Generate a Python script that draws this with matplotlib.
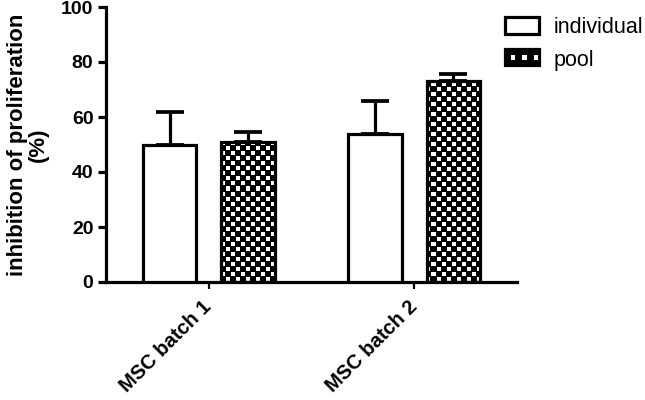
"""
Inhibition of proliferation by individual vs pooled MSC batches.
"""

import numpy as np
import matplotlib
matplotlib.use('Agg')
import matplotlib.pyplot as plt
from matplotlib.patches import Patch, Rectangle

# Data
batches = ['MSC batch 1', 'MSC batch 2']
series_names = ['individual', 'pool']
individual_mean = [50, 54]
individual_sd = [12, 12]
pool_mean = [51, 73]
pool_sd = [3.5, 2.5]
y_ticks = [0, 20, 40, 60, 80, 100]

plt.rcParams['font.family'] = ['Liberation Sans', 'DejaVu Sans']

LW = 2.3  # thick GraphPad-style lines
CELL_PX = 5  # checkerboard cell size in pixels


class CheckerHandler:
    """Legend handle: black box with a row of white squares, like the pool bars."""
    def legend_artist(self, legend, orig_handle, fontsize, handlebox):
        x0, y0 = handlebox.xdescent, handlebox.ydescent
        w, h = handlebox.width, handlebox.height
        tr = handlebox.get_transform()
        box = Rectangle((x0, y0), w, h, facecolor='black', edgecolor='black',
                        lw=LW, transform=tr)
        handlebox.add_artist(box)
        nx, ny = 6, 3
        cw, ch = w / nx, h / ny
        for i in range(nx):
            for j in range(ny):
                if (i + j) % 2 == 0 and j == 1:
                    handlebox.add_artist(Rectangle((x0 + i * cw, y0 + j * ch), cw * 0.8, ch * 0.8,
                                                   facecolor='white', edgecolor='none', transform=tr))
        return box


fig = plt.figure(figsize=(6.45, 4.0), dpi=100)
ax_rect = [0.1643, 0.295, 0.6373, 0.6875]
ax = fig.add_axes(ax_rect)

x = np.arange(len(batches))
width = 0.26
offset = 0.19

ax.bar(x - offset, individual_mean, width, color='white', edgecolor='black',
       linewidth=LW, zorder=3)
pool_bars = ax.bar(x + offset, pool_mean, width, color='none', edgecolor='black',
                   linewidth=LW, zorder=3)

# upper-only error bars
ax.errorbar(x - offset, individual_mean, yerr=[np.zeros(len(x)), individual_sd], fmt='none',
            ecolor='black', elinewidth=LW, capsize=10, capthick=LW + 0.4, zorder=2)
ax.errorbar(x + offset, pool_mean, yerr=[np.zeros(len(x)), pool_sd], fmt='none',
            ecolor='black', elinewidth=LW, capsize=10, capthick=LW + 0.4, zorder=2)

ax.set_xlim(-0.5, 1.5)
ax.set_ylim(0, 100)

# checkerboard fill for pool bars at pixel resolution, clipped to each bar
w_px = int(round(ax_rect[2] * fig.get_figwidth() * fig.dpi))
h_px = int(round(ax_rect[3] * fig.get_figheight() * fig.dpi))
rr, cc = np.indices((h_px, w_px))
checker = ((((rr // CELL_PX) + (cc // CELL_PX)) % 2 == 0)
           & (rr % CELL_PX != CELL_PX - 1) & (cc % CELL_PX != CELL_PX - 1)).astype(float)
for bar in pool_bars:
    im = ax.imshow(checker, cmap='gray', extent=(-0.5, 1.5, 0, 100), aspect='auto',
                   interpolation='nearest', zorder=2.5, vmin=0, vmax=1)
    im.set_clip_path(bar)

ax.set_xlim(-0.5, 1.5)
ax.set_ylim(0, 100)

ax.spines['top'].set_visible(False)
ax.spines['right'].set_visible(False)
ax.spines['left'].set_linewidth(LW)
ax.spines['bottom'].set_linewidth(LW)

ax.set_yticks(y_ticks)
ax.set_yticklabels([str(v) for v in y_ticks], fontsize=14, fontweight='bold')
ax.tick_params(axis='y', length=6, width=LW, pad=3)
ax.set_xticks(x)
ax.set_xticklabels(batches, fontsize=14.5, fontweight='bold', rotation=45,
                   ha='right', va='center', rotation_mode='anchor')
ax.tick_params(axis='x', length=5, width=1.6, pad=11)

ax.set_ylabel('inhibition of proliferation\n(%)', fontsize=16, fontweight='bold',
              linespacing=1.0, labelpad=9)

handles = [Patch(facecolor='white', edgecolor='black', linewidth=LW), Patch()]
fig.legend(handles, series_names, loc='upper left', bbox_to_anchor=(0.783, 0.957),
           frameon=False, fontsize=15.5, handlelength=1.6, handleheight=0.8,
           handletextpad=0.65, labelspacing=0.55, borderpad=0, borderaxespad=0,
           handler_map={handles[1]: CheckerHandler()})

fig.savefig('out.png', dpi=100)
